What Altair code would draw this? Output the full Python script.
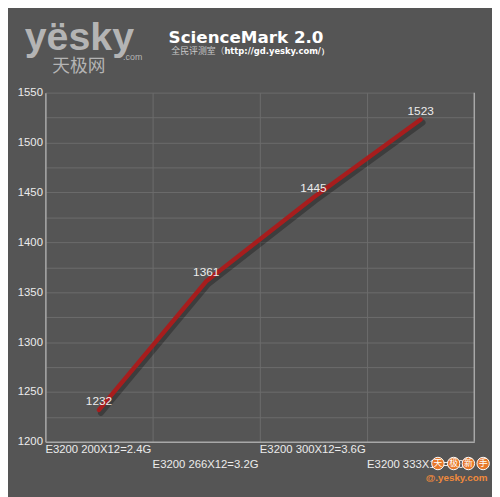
import json
import altair as alt
import pandas as pd

categories = ["E3200 200X12=2.4G", "E3200 266X12=3.2G", "E3200 300X12=3.6G", "E3200 333X12=4.0G"]
scores = [1232, 1361, 1445, 1523]
y_ticks = [1200, 1225, 1250, 1275, 1300, 1325, 1350, 1375, 1400, 1425, 1450, 1475, 1500, 1525, 1550]

title_text = "ScienceMark 2.0"
subtitle_cn = "全民评测室（"
subtitle_url = "http://gd.yesky.com/）"
logo_text = "yësky"
logo_com = ".com"
logo_cn = "天极网"
badge_chars = ["天", "极", "新", "手"]
badge_url = "@.yesky.com"

W, H = 436, 355
BG = "#555555"
GRID = "#6c6c6c"
DOMAIN = "#a8a8a8"
LABEL = "#ececec"
FONT = "Liberation Sans"

df = pd.DataFrame({"cat": categories, "score": scores})

cats_js = json.dumps(categories)
x_enc = alt.X(
    "cat:N",
    sort=categories,
    scale=alt.Scale(type="band", paddingInner=0, paddingOuter=0),
    axis=alt.Axis(
        title=None,
        labelAngle=0,
        labelAlign="left",
        labelBaseline="top",
        labelPadding=2,
        labelLineHeight=15,
        labelOffset=-W / 8,
        labelExpr=f"indexof({cats_js}, datum.value) % 2 == 1 ? ['', datum.label] : datum.label",
        bandPosition=0,
        ticks=False,
        grid=True,
        gridColor=GRID,
        domainColor=DOMAIN,
        domainWidth=1.5,
        labelColor=LABEL,
        labelFont=FONT,
        labelFontSize=11.5,
        labelOverlap=False,
        labelLimit=0,
    ),
)
y_enc = alt.Y(
    "score:Q",
    scale=alt.Scale(domain=[1200, 1550], nice=False, zero=False),
    axis=alt.Axis(
        title=None,
        values=y_ticks,
        labelExpr="datum.value % 50 == 0 ? datum.label : ''",
        format="d",
        ticks=False,
        labelPadding=3,
        grid=True,
        gridColor=GRID,
        domainColor=DOMAIN,
        domainWidth=1.5,
        labelColor=LABEL,
        labelFont=FONT,
        labelFontSize=11.5,
    ),
)

base = alt.Chart(df)
shadow = base.mark_line(color="#000000", opacity=0.28, strokeWidth=6, xOffset=2, yOffset=3, strokeCap="round").encode(x=x_enc, y=y_enc)
line = base.mark_line(color="#a71d1d", strokeWidth=4.5, strokeCap="round").encode(x=x_enc, y=y_enc)
labels = base.mark_text(color=LABEL, font=FONT, fontSize=12, dy=-9).encode(x=x_enc, y=y_enc, text="score:Q")

right_edge = alt.Chart(pd.DataFrame({"a": [0]})).mark_rule(color=DOMAIN, strokeWidth=1.5).encode(
    x=alt.value(W), y=alt.value(0), y2=alt.value(H)
)


def txt(s, x, y, **kw):
    return alt.Chart(pd.DataFrame({"t": [s]})).mark_text(**kw).encode(x=alt.value(x), y=alt.value(y), text="t:N")


layers = [right_edge, shadow, line, labels]
layers.append(txt(title_text, 204, -55, font="DejaVu Sans", fontWeight="bold", fontSize=17, color="#ffffff", align="center", baseline="middle"))
layers.append(txt(subtitle_cn, 182, -42, font="Noto Sans CJK SC", fontSize=9, color="#c8c8c8", align="right", baseline="middle"))
layers.append(txt(subtitle_url, 182, -42, font="DejaVu Sans", fontWeight="bold", fontSize=8.5, color="#ffffff", align="left", baseline="middle"))
layers.append(txt(logo_text, -21, -43, font=FONT, fontWeight="bold", fontSize=40, color="#b4b4b4", align="left", baseline="alphabetic"))
layers.append(txt(logo_com, 79, -36, font=FONT, fontSize=9, color="#b4b4b4", align="left", baseline="middle"))
layers.append(txt(logo_cn, 34, -26, font="Noto Sans CJK SC", fontSize=18, color="#b4b4b4", align="center", baseline="middle"))

badge_x = [399, 415, 430, 445]
for ch, bx in zip(badge_chars, badge_x):
    layers.append(
        alt.Chart(pd.DataFrame({"a": [0]})).mark_point(
            shape="circle", filled=True, size=160, color="#e8782a", stroke="#ffffff", strokeWidth=1, opacity=1
        ).encode(x=alt.value(bx), y=alt.value(377))
    )
    layers.append(txt(ch, bx, 377, font="Noto Sans CJK SC", fontSize=9, color="#ffffff", align="center", baseline="middle"))
layers.append(txt(badge_url, 418, 392, font=FONT, fontWeight="bold", fontSize=10, color="#f08a3c", align="center", baseline="middle"))

chart = (
    alt.layer(*layers)
    .properties(
        width=W,
        height=H,
        padding={"left": 38, "top": 82, "right": 18, "bottom": 52},
        autosize=alt.AutoSizeParams(type="none"),
        background=BG,
    )
    .configure_view(stroke=None)
)

chart.save("out.html", embed_options={"renderer": "svg", "actions": False})
